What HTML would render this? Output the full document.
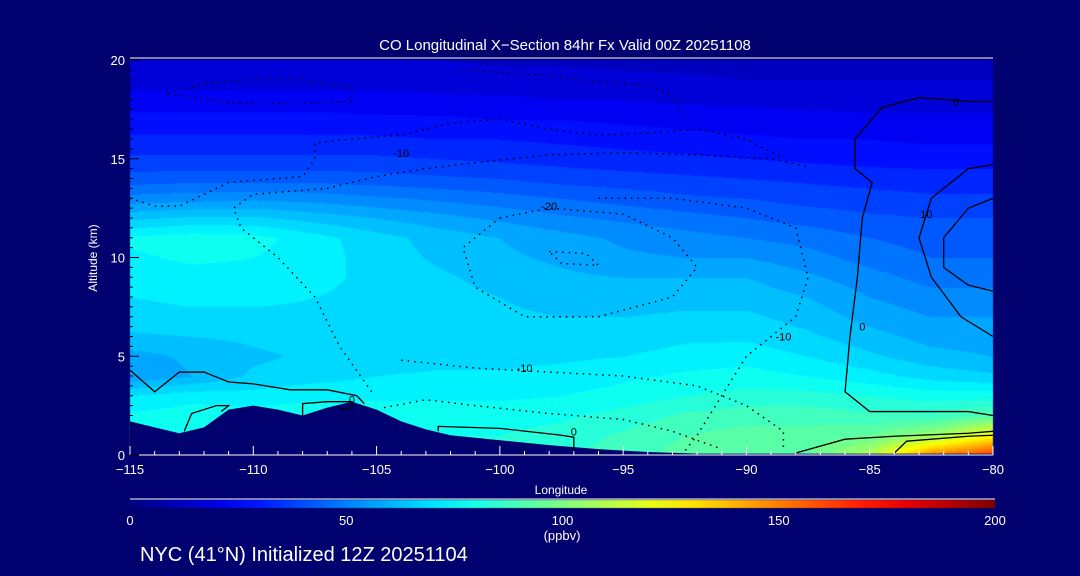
<!DOCTYPE html>
<html><head><meta charset="utf-8">
<style>
html,body{margin:0;padding:0;background:#00006e;width:1080px;height:576px;overflow:hidden}
#wrap{position:relative;width:1080px;height:576px}
canvas,svg{position:absolute;left:0;top:0}
text{font-family:"Liberation Sans",sans-serif;fill:#fff}
</style></head>
<body>
<div id="wrap">
<canvas id="heat" width="1080" height="576"></canvas>
<svg id="svg" width="1080" height="576"></svg>
</div>
<script>
const lons=[-115,-112.5,-110,-107.5,-105,-102.5,-100,-97.5,-95,-92.5,-90,-87.5,-85,-82.5,-80];
const alts=[20,19,18,17,16,15,14,13,12,11,10,9,8,7,6,5,4,3,2,1,0];
const coValues=[
[15,15,15,15,15,15,14,14,14,13,13,13,13,13,13],
[18,18,18,18,18,18,17,17,16,16,15,15,15,15,15],
[22,22,22,22,22,21,21,20,20,19,19,18,18,18,18],
[27,27,27,27,26,26,25,25,24,23,22,22,21,21,21],
[31,31,31,31,31,30,30,29,28,27,26,25,25,24,24],
[36,36,36,36,36,35,34,33,32,31,30,29,28,28,28],
[42,43,43,43,42,41,40,38,37,36,35,34,33,32,32],
[52,53,54,53,51,49,47,45,43,41,40,38,37,36,36],
[64,66,66,63,60,57,54,51,49,47,45,43,41,40,40],
[76,78,77,72,67,63,60,57,54,52,50,48,45,43,43],
[74,76,75,72,68,64,61,59,56,55,55,52,48,45,45],
[72,73,73,71,69,66,63,61,60,60,60,56,52,48,48],
[70,71,71,70,69,67,65,63,62,63,63,60,55,52,52],
[68,69,69,69,68,67,66,65,65,66,66,63,58,55,55],
[64,65,66,67,67,67,66,66,67,69,69,66,62,58,57],
[58,61,64,66,67,68,68,69,70,72,73,70,66,62,60],
[56,60,66,68,70,71,71,72,74,76,77,75,72,68,66],
[70,73,72,74,74,74,74,75,77,80,82,82,80,78,78],
[76,78,78,78,78,78,78,79,82,86,88,88,86,86,92],
[78,80,80,80,80,80,80,82,86,90,92,92,95,105,125],
[80,82,82,82,82,82,82,84,88,92,94,95,110,150,165]];
const terrain=[[-115,1.7],[-114,1.4],[-113,1.1],[-112,1.4],[-111,2.3],[-110,2.5],[-109,2.3],[-108,2.0],[-107,2.4],[-106,2.7],[-105,2.3],[-104,1.7],[-103,1.3],[-102,1.0],[-100,0.75],[-98,0.5],[-96,0.3],[-94,0.15],[-92,0.07],[-80,0.07]];
const solidContours=[
[[-115,4.3],[-114,3.2],[-113,4.2],[-112,4.2],[-111,3.7],[-110,3.6],[-108.5,3.3],[-107,3.3],[-105.8,3.0],[-105.5,2.6]],
[[-112.8,1.2],[-112.5,2.1],[-111.5,2.5],[-111,2.5],[-111.3,2.2]],
[[-108,2.0],[-108,2.6],[-107,2.7],[-106,2.7],[-106,2.4],[-106.5,2.3]],
[[-102.5,1.2],[-102.5,1.45],[-100,1.35],[-97.5,1.0],[-97,0.9],[-97,0.1]],
[[-88,0.1],[-86,0.8],[-84,0.95],[-81,1.1],[-80,1.2]],
[[-84,0.1],[-83.5,0.7],[-81,0.95],[-80,1.0]],
[[-80,2.0],[-81,2.2],[-85,2.2],[-86,3.2],[-85.8,6],[-85.5,9],[-85.3,12],[-84.9,13.8],[-85.6,14.5],[-85.6,16],[-84.5,17.6],[-83,18.1],[-81,17.9],[-80,17.9]],
[[-80,6],[-81.3,7],[-82.5,9],[-83,11],[-82.5,13],[-81,14.5],[-80,14.7]],
[[-80,13],[-81,12.5],[-82,11],[-82,9.5],[-81,8.6],[-80,8.3]]];
const dottedContours=[
[[-105.2,3.2],[-106.5,5.5],[-107.5,8],[-109,10],[-110.5,11.5],[-110.8,12.5],[-110,13.2],[-107,13.5],[-105,14.1],[-103,14.5],[-101,14.8],[-98,15.2],[-95,15.3],[-92,15.2],[-89,15.0],[-87.5,14.6]],
[[-115,13],[-114,12.6],[-113,12.6],[-112,13.2],[-111,13.8],[-109,14.0],[-108,14.1],[-107.5,15],[-107.5,15.8],[-106,16],[-104,16.2],[-102,16.8],[-100,17],[-98,16.5],[-96,16.2],[-94,16.3],[-92,16.5],[-90,16.0],[-88.5,15]],
[[-113.5,18.3],[-112,18.8],[-110,19.0],[-108,19.0],[-106,18.6],[-106,17.9],[-108,17.8],[-111,17.8],[-113.5,18.3]],
[[-101.5,19.5],[-98,19.2],[-96,18.9],[-94,18.7],[-93,18.2],[-92.5,17.0]],
[[-104.7,2.4],[-103,2.8],[-101,2.5],[-98,2.1],[-95,1.8],[-93,1.2],[-91,0.3]],
[[-104,4.8],[-101,4.4],[-98,4.2],[-95,4.0],[-92,3.5],[-90,2.5],[-88.5,1.2],[-88.5,0.2]],
[[-100,12],[-98,12.5],[-95,12.2],[-93,11],[-92,9.5],[-93,8],[-96,7],[-99,7],[-101,8.5],[-101.5,10.5],[-100,12]],
[[-96,13],[-93,13],[-90,12.5],[-88,11.5],[-87.5,9],[-88,7],[-90,5],[-91,3],[-92,1],[-92.5,0.2]],
[[-98,10.3],[-96.5,10.2],[-96,9.6],[-97.5,9.7],[-98,10.3]]];
const labels=[[-104,15.3,"-10"],[-98,12.6,"-20"],[-99,4.4,"-10"],[-88.5,6,"-10"],[-106,2.8,"0"],[-97,1.2,"0"],[-81.5,17.9,"0"],[-82.7,12.2,"10"],[-85.3,6.5,"0"]];
const xTicks=[-115,-110,-105,-100,-95,-90,-85,-80];
const yTicks=[0,5,10,15,20];
const cbTicks=[0,50,100,150,200];

const X0=130,X1=993,Y0=455,Y1=60;
const xs=l=>X0+(l+115)/35*(X1-X0);
const ys=a=>Y0-a/20*(Y0-Y1);
function jet(v){let t=Math.max(0,Math.min(1,v/200));
 const f=(x)=>Math.max(0,Math.min(1,x));
 return [f(Math.min(4*t-1.5,-4*t+4.5)),f(Math.min(4*t-0.5,-4*t+3.5)),f(Math.min(4*t+0.5,-4*t+2.5))].map(c=>Math.round(c*255));}
function val(l,a){
 let fi=(l+115)/2.5,fj=(20-a);
 let i=Math.min(13,Math.max(0,Math.floor(fi))),j=Math.min(19,Math.max(0,Math.floor(fj)));
 let u=fi-i,w=fj-j;
 return coValues[j][i]*(1-u)*(1-w)+coValues[j][i+1]*u*(1-w)+coValues[j+1][i]*(1-u)*w+coValues[j+1][i+1]*u*w;}
const cv=document.getElementById('heat'),ctx=cv.getContext('2d');
const W=X1-X0,H=Y0-Y1,img=ctx.createImageData(W,H);
for(let py=0;py<H;py++)for(let px=0;px<W;px++){
 const l=-115+px/W*35,a=20-py/H*20;
 let v=Math.floor(val(l,a)/5)*5+2.5;const c=jet(v);const k=(py*W+px)*4;
 img.data[k]=c[0];img.data[k+1]=c[1];img.data[k+2]=c[2];img.data[k+3]=255;}
ctx.putImageData(img,X0,Y1);
const grd=ctx.createLinearGradient(130,0,995,0);
for(let s=0;s<=20;s++){const c=jet(s*10);grd.addColorStop(s/20,`rgb(${c})`);}
ctx.fillStyle=grd;ctx.fillRect(130,500,865,8);

const NS='http://www.w3.org/2000/svg',svg=document.getElementById('svg');
function mk(t,at,name,txt){const e=document.createElementNS(NS,t);for(const k in at)e.setAttribute(k,at[k]);
 
 
 if(txt!==undefined)e.textContent=txt;svg.appendChild(e);return e;}
let tp=terrain.map(p=>xs(p[0])+','+ys(p[1])).join(' ')+` ${X1},${Y0} ${X0},${Y0}`;
mk('polygon',{points:tp,fill:'#00006e'},'terrain');
solidContours.forEach(c=>mk('polyline',{points:c.map(p=>xs(p[0])+','+ys(p[1])).join(' '),fill:'none',stroke:'#000','stroke-width':1.3},'contour-solid'));
dottedContours.forEach(c=>mk('polyline',{points:c.map(p=>xs(p[0])+','+ys(p[1])).join(' '),fill:'none',stroke:'#000','stroke-width':1.5,'stroke-dasharray':'1.5 5'},'contour-dotted'));
labels.forEach(b=>{mk('text',{x:xs(b[0]),y:ys(b[1])+4,'font-size':11,'text-anchor':'middle',style:'fill:#000'},'contour-label',b[2]);});
mk('line',{x1:X0,y1:Y1-2,x2:X1,y2:Y1-2,stroke:'#fff'},'top-axis');
mk('line',{x1:X0,y1:Y0,x2:X1,y2:Y0,stroke:'#fff'},'x-axis-line');
for(let l=-115;l<=-80;l++){const maj=(l%5===0);mk('line',{x1:xs(l),y1:Y0,x2:xs(l),y2:Y0-(maj?9:4),stroke:'#fff'},'x-tick');}
xTicks.forEach(t=>mk('text',{x:xs(t),y:474,'font-size':13,'text-anchor':'middle'},'x-tick-label',String(t).replace('-','\u2212')));
for(let a=0;a<=20;a+=0.5)mk('line',{x1:X0,y1:ys(a),x2:X0+(a%5===0?9:3),y2:ys(a),stroke:'#000'},'y-tick');
yTicks.forEach(t=>mk('text',{x:125,y:ys(t)+5,'font-size':13,'text-anchor':'end'},'y-tick-label',t));
mk('text',{x:561,y:494,'font-size':12,'text-anchor':'middle'},'x-axis-title','Longitude');
mk('text',{x:97,y:258,'font-size':12,'text-anchor':'middle',transform:'rotate(-90 97 258)'},'y-axis-title','Altitude (km)');
mk('text',{x:565,y:50,'font-size':15,'text-anchor':'middle'},'chart-title','CO Longitudinal X\u2212Section 84hr  Fx Valid 00Z 20251108');
mk('line',{x1:130,y1:499,x2:995,y2:499,stroke:'#fff'},'colorbar-top-line');
cbTicks.forEach(t=>mk('text',{x:130+t/200*865,y:525,'font-size':13,'text-anchor':'middle'},'colorbar-tick-label',t));
mk('text',{x:562,y:540,'font-size':13,'text-anchor':'middle'},'colorbar-units','(ppbv)');
mk('text',{x:140,y:561,'font-size':20},'footer-caption','NYC (41\u00b0N) Initialized 12Z 20251104');
</script>
</body></html>
